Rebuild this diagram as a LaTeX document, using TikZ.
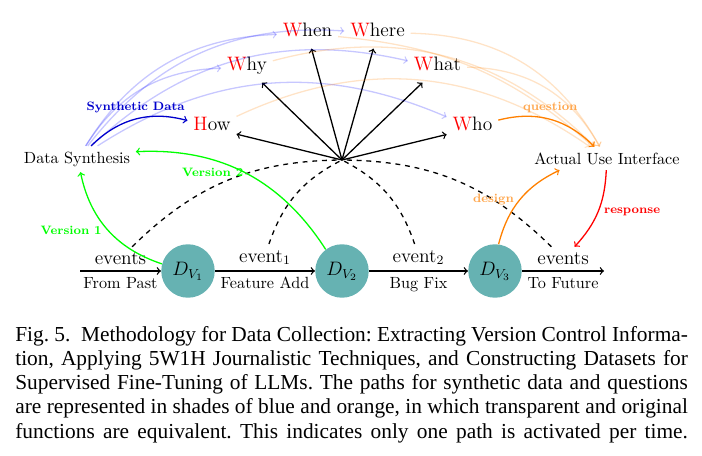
\documentclass[tikz,border=0pt]{standalone}
\usepackage{fontspec}
\usepackage{amsmath}
\usepackage{tikz}
\newfontfamily\capfont{Liberation Serif}
\def\RW#1#2{\textcolor{red}{#1}#2}

\begin{document}
\begin{tikzpicture}[x=0.617pt,y=-0.617pt,
  wnode/.style={font=\large,anchor=base,inner xsep=3.5pt,inner ysep=2pt,text height=8.5pt,text depth=5pt},
  dver/.style={circle,fill=teal!60,minimum size=33pt,inner sep=0pt,font=\large},
  tag/.style={font=\fontsize{7.5}{9}\selectfont\bfseries},
  fadeb/.style={->,thick,blue,draw opacity=0.22},
  fadeo/.style={->,thick,orange,draw opacity=0.22}]
\useasboundingbox (0,0) rectangle (702,456);
% versions on the time line
\node[dver] (dv1) at (188,271) {$D_{V_1}$};
\node[dver] (dv2) at (342,271) {$D_{V_2}$};
\node[dver] (dv3) at (495,271) {$D_{V_3}$};
\coordinate (past) at (80,271);
\coordinate (future) at (604,271);
\draw[->,thick] (past) -- node[above,font=\large] (ev0) {events} node[below] {From Past} (dv1);
\draw[->,thick] (dv1) -- node[above,font=\large] (ev1) {event$_1$} node[below] {Feature Add} (dv2);
\draw[->,thick] (dv2) -- node[above,font=\large] (ev2) {event$_2$} node[below] {Bug Fix} (dv3);
\draw[->,thick] (dv3) -- node[above,font=\large] (ev3) {events} node[below] {To Future} (future);
% 5W1H
\coordinate (hub) at (342,160);
\node[wnode] (how) at (212,131) {\RW{H}{ow}};
\node[wnode] (why) at (247,71) {\RW{W}{hy}};
\node[wnode] (when) at (307.5,37) {\RW{W}{hen}};
\node[wnode] (where) at (377.5,37) {\RW{W}{here}};
\node[wnode] (what) at (437.5,71) {\RW{W}{hat}};
\node[wnode] (who) at (472.5,131) {\RW{W}{ho}};
\foreach \w in {how,why,when,where,what,who} \draw[->,thick] (hub) -- (\w);
\draw[thick,dashed] (ev0) to[bend left=22] (hub);
\draw[thick,dashed] (ev1) to[bend left=22] (hub);
\draw[thick,dashed] (ev2) to[bend right=22] (hub);
\draw[thick,dashed] (ev3) to[bend right=22] (hub);
% synthesis and use
\node (ds) at (77,159) {Data Synthesis};
\node (aui) at (607,158.5) {Actual Use Interface};
\foreach \w in {why,when,where,what,who} \draw[fadeb] (ds) to[bend left=28] (\w);
\foreach \w in {how,why,where,what} \draw[fadeo] (\w) to[bend left=30] (aui);
\draw[fadeo] (when) to[bend left=18] (aui);
\draw[->,thick,blue!80!black] (ds) to[bend left=30] node[above,tag] {Synthetic Data} (how);
\draw[->,thick,orange] (who) to[bend left=30] node[pos=0.5,above,tag,orange!70] {question} (aui);
\draw[->,thick,orange] (dv3) to[bend left=25] node[left,tag,orange!70] {design} ([xshift=19pt]aui.south west);
\draw[->,thick,red] (aui) to[bend left=20] node[right,tag] {response} (ev3);
\draw[->,thick,green] (dv1) to[bend left=30] node[left,tag] {Version 1} (ds);
\draw[->,thick,green] (dv2) to[bend right=30] node[pos=0.5,xshift=-20pt,tag] {Version 2} (ds);
% caption
\node[anchor=north west,inner sep=0pt,text width=415pt,align=justify,
  font={\capfont\fontsize{13.18}{14.83}\selectfont}] (cap) at (15,326.5)
  {\frenchspacing\parfillskip=0pt Fig.~5.\enspace Methodology for Data Collection: Extracting Version Control Informa-\linebreak
  tion, Applying 5W1H Journalistic Techniques, and Constructing Datasets for\linebreak
  Supervised Fine-Tuning of LLMs. The paths for synthetic data and questions\linebreak
  are represented in shades of blue and orange, in which transparent and original\linebreak
  functions are equivalent. This indicates only one path is activated per time.\par};
\end{tikzpicture}
\end{document}
